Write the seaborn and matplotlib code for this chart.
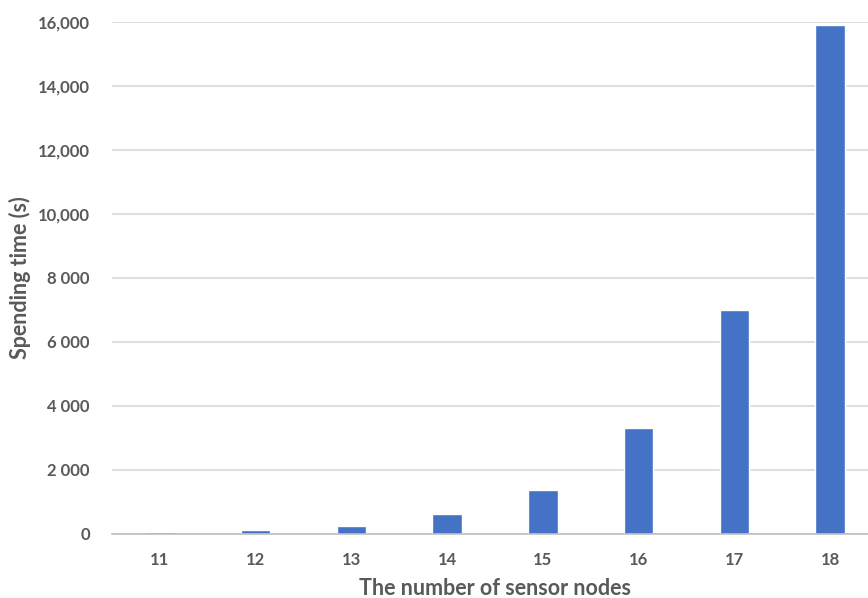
import matplotlib
matplotlib.use("Agg")
import matplotlib.pyplot as plt
import seaborn as sns
import pandas as pd

# Spending time per network size
nodes = ["11", "12", "13", "14", "15", "16", "17", "18"]
spending_time = [50, 110, 260, 620, 1380, 3300, 7000, 15900]

ytick_values = [0, 2000, 4000, 6000, 8000, 10000, 12000, 14000, 16000]
ytick_labels = ["0", "2 000", "4 000", "6 000", "8 000", "10,000", "12,000", "14,000", "16,000"]

x_title = "The number of sensor nodes"
y_title = "Spending time (s)"

df = pd.DataFrame({"nodes": nodes, "time": spending_time})

sns.set_theme(style="white")
plt.rcParams["font.family"] = ["Lato", "DejaVu Sans"]

text_color = "#595959"
bar_color = "#4472C4"
grid_color = "#d9d9d9"

fig = plt.figure(figsize=(8.68, 5.98), dpi=100)
W, H = 868, 598
left, right, top, bottom = 112, 878, 22, 534
ax = fig.add_axes([left / W, 1 - bottom / H, (right - left) / W, (bottom - top) / H])

sns.barplot(data=df, x="nodes", y="time", order=nodes, color=bar_color,
            width=0.31, saturation=1, ax=ax, zorder=3)

ax.set_xlim(-0.5, len(nodes) - 0.5)
ax.set_ylim(0, 16000)
ax.set_yticks(ytick_values)
ax.set_yticklabels(ytick_labels)

ax.yaxis.grid(True, color=grid_color, linewidth=1.2, zorder=0)
ax.set_axisbelow(True)
for side in ["top", "right", "left"]:
    ax.spines[side].set_visible(False)
ax.spines["bottom"].set_color("#bfbfbf")
ax.spines["bottom"].set_linewidth(1.2)
ax.spines["bottom"].set_zorder(4)

ax.tick_params(axis="y", length=0, pad=16, labelsize=12, labelcolor=text_color)
ax.tick_params(axis="x", length=0, pad=13, labelsize=12, labelcolor=text_color)
for lab in ax.get_xticklabels() + ax.get_yticklabels():
    lab.set_fontweight("bold")

ax.set_xlabel(x_title, fontsize=15.5, fontweight="bold", color=text_color, labelpad=7)
ax.set_ylabel(y_title, fontsize=15.5, fontweight="bold", color=text_color, labelpad=5)

fig.savefig("out.png", dpi=100)
